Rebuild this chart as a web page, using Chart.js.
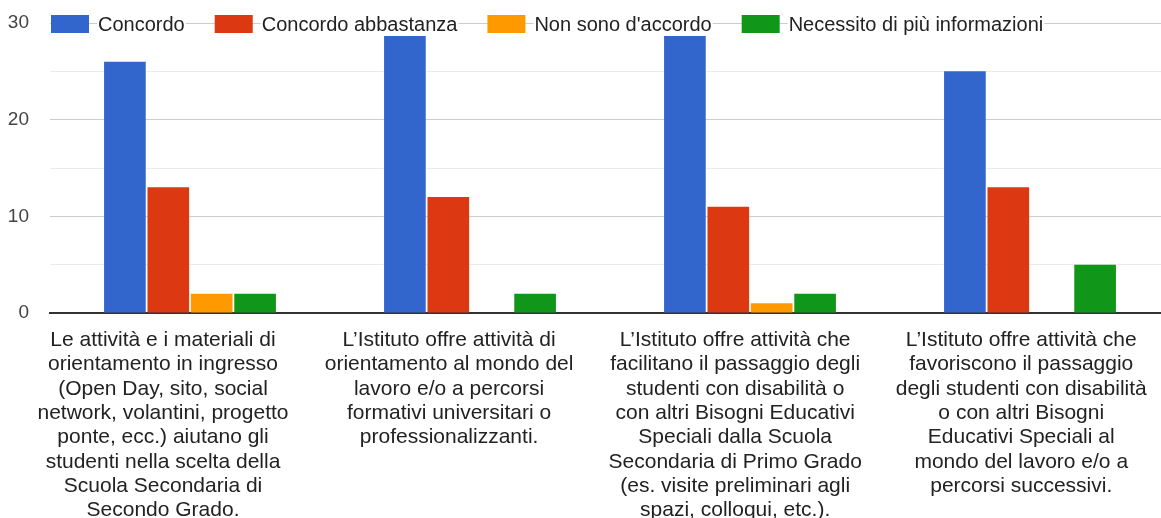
<!DOCTYPE html>
<html>
<head>
<meta charset="utf-8">
<script src="https://cdn.jsdelivr.net/npm/chart.js@4.4.1/dist/chart.umd.min.js"></script>
<style>
  html, body { margin: 0; padding: 0; background: #fff; overflow: hidden; }
  #wrap { width: 1161px; height: 518px; overflow: hidden; }
  #inner { width: 1170px; height: 518px; position: relative; }
</style>
</head>
<body>
<div id="wrap"><div id="inner"><canvas id="chart"></canvas></div></div>
<script>
const categories = [
  ['Le attività e i materiali di', 'orientamento in ingresso', '(Open Day, sito, social', 'network, volantini, progetto', 'ponte, ecc.) aiutano gli', 'studenti nella scelta della', 'Scuola Secondaria di', 'Secondo Grado.'],
  ['L’Istituto offre attività di', 'orientamento al mondo del', 'lavoro e/o a percorsi', 'formativi universitari o', 'professionalizzanti.'],
  ['L’Istituto offre attività che', 'facilitano il passaggio degli', 'studenti con disabilità o', 'con altri Bisogni Educativi', 'Speciali dalla Scuola', 'Secondaria di Primo Grado', '(es. visite preliminari agli', 'spazi, colloqui, etc.).'],
  ['L’Istituto offre attività che', 'favoriscono il passaggio', 'degli studenti con disabilità', 'o con altri Bisogni', 'Educativi Speciali al', 'mondo del lavoro e/o a', 'percorsi successivi.']
];

const seriesNames = ['Concordo', 'Concordo abbastanza', "Non sono d'accordo", 'Necessito di più informazioni'];
const concordo = [26, 29, 29, 25];
const abbastanza = [13, 12, 11, 13];
const nonAccordo = [2, 0, 1, 0];
const piuInfo = [2, 2, 2, 5];
const yTicks = [0, 10, 20, 30];

const colors = ['#3366cc', '#dc3912', '#ff9900', '#109618'];
const FONT = "'Liberation Sans', Arial, sans-serif";

// label axis range, a bit wider than the bar groups
const LABEL_MIN = -0.395;
const LABEL_MAX = 3.52;

// legend drawn over the top gridline, google style
const topLegend = {
  id: 'topLegend',
  afterDraw(chart) {
    const ctx = chart.ctx;
    const y = chart.chartArea.top + 1;
    let x = chart.chartArea.left + 1;
    ctx.save();
    ctx.font = '20px ' + FONT;
    ctx.textBaseline = 'middle';
    chart.data.datasets.forEach(ds => {
      ctx.fillStyle = ds.backgroundColor;
      ctx.fillRect(x, y - 9, 38, 18);
      x += 38 + 9;
      const w = ctx.measureText(ds.label).width;
      ctx.fillStyle = '#fff';
      ctx.fillRect(x - 1, y - 12, w + 2, 24);
      ctx.fillStyle = '#222';
      ctx.fillText(ds.label, x, y + 1);
      x += w + 30;
    });
    ctx.restore();
  }
};

const datasets = [concordo, abbastanza, nonAccordo, piuInfo].map((vals, i) => ({
  label: seriesNames[i],
  data: vals,
  backgroundColor: colors[i],
  borderWidth: 0,
  categoryPercentage: 0.62,
  barPercentage: 0.96
}));

new Chart(document.getElementById('chart'), {
  type: 'bar',
  data: { labels: categories, datasets: datasets },
  options: {
    responsive: true,
    maintainAspectRatio: false,
    animation: false,
    layout: { padding: { top: 23, right: 0, left: 0, bottom: 0 } },
    plugins: {
      legend: { display: false },
      tooltip: { enabled: false }
    },
    scales: {
      x: {
        weight: 0,
        grid: { display: false },
        border: { display: true, color: '#333', width: 2 },
        ticks: { display: false },
        afterFit(scale) { scale.height = 0; }
      },
      xl: {
        type: 'linear',
        position: 'bottom',
        weight: 1,
        bounds: 'data',
        offset: false,
        grid: { display: false },
        border: { display: false },
        afterDataLimits(scale) { scale.min = LABEL_MIN; scale.max = LABEL_MAX; },
        afterBuildTicks(scale) {
          scale.ticks = categories.map((c, i) => ({ value: i }));
          scale.min = LABEL_MIN;
          scale.max = LABEL_MAX;
        },
        ticks: {
          color: '#222',
          font: { family: FONT, size: 21, lineHeight: 1.16 },
          padding: 7,
          maxRotation: 0,
          autoSkip: false,
          callback: v => categories[v] || ''
        },
        afterFit(scale) { scale.height = 205; }
      },
      y: {
        min: 0,
        max: 30,
        border: { display: false },
        grid: {
          drawTicks: false,
          color: ctx => ctx.tick.value === 0 ? 'rgba(0,0,0,0)' : (ctx.tick.value % 10 === 0 ? '#cccccc' : '#ebebeb'),
          lineWidth: 1
        },
        ticks: {
          stepSize: 5,
          color: '#444',
          padding: 21,
          font: { family: FONT, size: 19 },
          callback: v => yTicks.includes(v) ? String(v) : ''
        },
        afterFit(scale) {
          scale.width = 50;
          scale.paddingTop = 0;
          scale.paddingBottom = 0;
        }
      }
    }
  },
  plugins: [topLegend]
});
</script>
</body>
</html>
